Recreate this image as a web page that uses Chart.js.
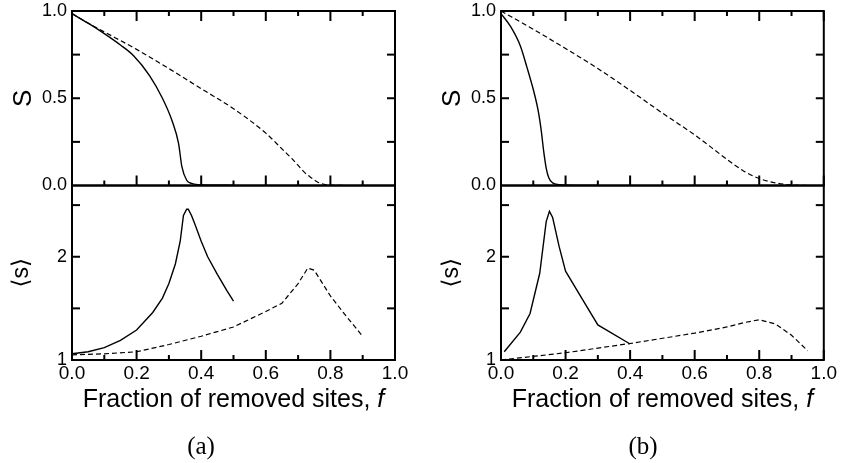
<!DOCTYPE html>
<html>
<head>
<meta charset="utf-8">
<script src="https://cdn.jsdelivr.net/npm/chart.js@4.4.0/dist/chart.umd.min.js"></script>
<style>
  html, body { margin: 0; padding: 0; background: #fff; }
  #wrap { position: relative; width: 841px; height: 463px; }
  .box { position: absolute; top: 0; height: 463px; }
</style>
</head>
<body>
<div id="wrap">
  <div class="box" style="left:0;width:420px"><canvas id="chartA"></canvas></div>
  <div class="box" style="left:420px;width:421px"><canvas id="chartB"></canvas></div>
</div>
<script>
// --- tick values ---
const xMajor = [0, 0.2, 0.4, 0.6, 0.8, 1.0];
const xMinor = [0.1, 0.3, 0.5, 0.7, 0.9];
const yTopLabels = [0, 0.5, 1.0];
const yTopMarks = [0.25, 0.5, 0.75];
const yBotLabels = [1, 2];
const yBotMarks = [1.5, 2, 2.5];

// --- panel (a), upper: S vs f ---
const attackFa = [0, 0.05, 0.1, 0.15, 0.19, 0.24, 0.28, 0.31, 0.33, 0.34, 0.355, 0.37, 0.39, 0.45, 0.5];
const attackSa = [0.985, 0.93, 0.87, 0.805, 0.745, 0.63, 0.50, 0.37, 0.24, 0.11, 0.03, 0.012, 0.005, 0.002, 0.001];
const failFa = [0, 0.05, 0.1, 0.2, 0.3, 0.4, 0.5, 0.6, 0.65, 0.68, 0.7, 0.72, 0.74, 0.76, 0.78, 0.8, 0.85];
const failSa = [0.985, 0.93, 0.88, 0.78, 0.67, 0.555, 0.44, 0.30, 0.21, 0.155, 0.115, 0.075, 0.045, 0.02, 0.007, 0.002, 0];

// --- panel (a), lower: <s> vs f ---
const attackFsa = [0, 0.05, 0.1, 0.15, 0.2, 0.25, 0.28, 0.30, 0.32, 0.335, 0.345, 0.355, 0.36, 0.37, 0.38, 0.40, 0.42, 0.45, 0.48, 0.50];
const attackMsa = [1.06, 1.08, 1.12, 1.19, 1.29, 1.46, 1.60, 1.74, 1.93, 2.15, 2.40, 2.46, 2.46, 2.40, 2.32, 2.15, 2.00, 1.83, 1.67, 1.57];
const failFsa = [0, 0.1, 0.2, 0.3, 0.4, 0.5, 0.6, 0.65, 0.7, 0.73, 0.75, 0.8, 0.85, 0.9];
const failMsa = [1.05, 1.06, 1.08, 1.15, 1.23, 1.32, 1.47, 1.55, 1.74, 1.89, 1.87, 1.62, 1.42, 1.23];

// --- panel (b), upper ---
const attackFb = [0, 0.03, 0.06, 0.08, 0.1, 0.115, 0.125, 0.132, 0.14, 0.148, 0.16, 0.18, 0.2, 0.3];
const attackSb = [0.985, 0.91, 0.80, 0.68, 0.55, 0.43, 0.31, 0.20, 0.10, 0.045, 0.015, 0.005, 0.002, 0];
const failFb = [0, 0.1, 0.2, 0.3, 0.4, 0.5, 0.6, 0.7, 0.75, 0.8, 0.85, 0.9, 0.95];
const failSb = [1.0, 0.895, 0.785, 0.67, 0.545, 0.415, 0.29, 0.15, 0.085, 0.04, 0.015, 0.003, 0];

// --- panel (b), lower ---
const attackFsb = [0.01, 0.06, 0.09, 0.12, 0.14, 0.15, 0.16, 0.18, 0.2, 0.25, 0.3, 0.4];
const attackMsb = [1.08, 1.27, 1.45, 1.84, 2.34, 2.44, 2.38, 2.10, 1.86, 1.60, 1.34, 1.155];
const failFsb = [0, 0.2, 0.4, 0.6, 0.7, 0.75, 0.8, 0.85, 0.9, 0.95];
const failMsb = [1.0, 1.07, 1.16, 1.26, 1.32, 1.36, 1.39, 1.35, 1.24, 1.09];

const SANS = '"Liberation Sans", Arial, Helvetica, sans-serif';
const SERIF = '"Liberation Serif", "Times New Roman", serif';

function pts(xs, ys) {
  return xs.map((x, i) => ({ x: x, y: ys[i] }));
}

function line(data, axis, dashed, smooth) {
  return {
    data: data,
    yAxisID: axis,
    borderColor: '#000',
    borderWidth: dashed ? 1.2 : 1.4,
    borderDash: dashed ? [5, 3] : [],
    pointRadius: 0,
    fill: false,
    cubicInterpolationMode: smooth ? 'monotone' : 'default',
    tension: 0
  };
}

// рамка, внутренние засечки и подписи под осью
const framePlugin = {
  id: 'frame',
  afterDraw(chart, args, opts) {
    const ctx = chart.ctx;
    const x = chart.scales.x, yt = chart.scales.yTop, yb = chart.scales.yBot;
    const L = chart.chartArea.left, R = chart.chartArea.right;
    ctx.save();
    ctx.setLineDash([]);

    ctx.strokeStyle = '#000';
    ctx.lineWidth = 2;
    ctx.strokeRect(L, yt.top, R - L, yt.bottom - yt.top);
    ctx.strokeRect(L, yb.top, R - L, yb.bottom - yb.top);

    ctx.fillStyle = '#000';
    const xTick = (v, len) => {
      const px = x.getPixelForValue(v);
      ctx.fillRect(px - 1, yt.top, 2, len);
      ctx.fillRect(px - 1, yt.bottom - len, 2, len);
      ctx.fillRect(px - 1, yb.bottom - len, 2, len);
    };
    xMajor.forEach(v => xTick(v, 10));
    xMinor.forEach(v => xTick(v, 5));

    const yTick = (scale, v) => {
      const py = scale.getPixelForValue(v);
      ctx.fillRect(L, py - 1, 8, 2);
      ctx.fillRect(R - 8, py - 1, 8, 2);
    };
    yTopMarks.forEach(v => yTick(yt, v));
    yBotMarks.forEach(v => yTick(yb, v));

    // подпись оси x с курсивной f
    ctx.textBaseline = 'middle';
    ctx.textAlign = 'left';
    const t1 = 'Fraction of removed sites, ';
    ctx.font = '25px ' + SANS;
    const w1 = ctx.measureText(t1).width;
    ctx.font = 'italic 25px ' + SANS;
    const w2 = ctx.measureText('f').width;
    const start = (L + R) / 2 - (w1 + w2) / 2;
    ctx.font = '25px ' + SANS;
    ctx.fillText(t1, start, 400);
    ctx.font = 'italic 25px ' + SANS;
    ctx.fillText('f', start + w1, 400);

    ctx.textAlign = 'center';
    ctx.font = '25px ' + SERIF;
    ctx.fillText(opts.tag, opts.tagX, 447);
    ctx.restore();
  }
};

function makeChart(id, sets, cfg) {
  const tickFont = { family: SANS, size: 18, lineHeight: 0.6 };
  return new Chart(document.getElementById(id), {
    type: 'line',
    data: { datasets: sets },
    options: {
      responsive: true,
      maintainAspectRatio: false,
      animation: false,
      events: [],
      layout: { padding: { top: 11, left: 0, right: cfg.padRight, bottom: 76 } },
      plugins: {
        legend: { display: false },
        tooltip: { enabled: false },
        frame: { tag: cfg.tag, tagX: cfg.tagX }
      },
      scales: {
        x: {
          type: 'linear',
          min: 0, max: 1,
          grid: { display: false, drawTicks: false },
          border: { display: false },
          afterBuildTicks: s => { s.ticks = xMajor.map(v => ({ value: v })); },
          ticks: {
            color: '#000',
            font: { family: SANS, size: 19, lineHeight: 1 },
            padding: 4,
            maxRotation: 0,
            autoSkip: false,
            callback: v => v.toFixed(1)
          }
        },
        yBot: {
          type: 'linear',
          position: 'left',
          stack: 'panels',
          stackWeight: 1,
          min: 1, max: 2.69,
          grid: { display: false, drawTicks: false },
          border: { display: false },
          afterBuildTicks: s => { s.ticks = yBotLabels.map(v => ({ value: v })); },
          afterFit: s => { s.width = cfg.axisW; },
          ticks: { color: '#000', font: tickFont, padding: 5, callback: v => String(v) },
          title: {
            display: true, text: '\u27E8s\u27E9', color: '#000',
            font: { family: SANS + ', "DejaVu Sans"', size: 23, lineHeight: 1 },
            padding: { top: cfg.titlePadBot, bottom: 0 }
          }
        },
        yTop: {
          type: 'linear',
          position: 'left',
          stack: 'panels',
          stackWeight: 1,
          min: 0, max: 1,
          grid: { display: false, drawTicks: false },
          border: { display: false },
          afterBuildTicks: s => { s.ticks = yTopLabels.map(v => ({ value: v })); },
          afterFit: s => { s.width = cfg.axisW; },
          ticks: { color: '#000', font: tickFont, padding: 5, callback: v => v.toFixed(1) },
          title: {
            display: true, text: 'S', color: '#000',
            font: { family: SANS, size: 26, lineHeight: 1 },
            padding: { top: cfg.titlePadTop, bottom: 0 }
          }
        }
      }
    },
    plugins: [framePlugin]
  });
}

makeChart('chartA', [
  line(pts(attackFa, attackSa), 'yTop', false, true),
  line(pts(failFa, failSa), 'yTop', true, true),
  line(pts(attackFsa, attackMsa), 'yBot', false, false),
  line(pts(failFsa, failMsa), 'yBot', true, false)
], { padRight: 25, axisW: 72, titlePadTop: 11, titlePadBot: 10, tag: '(a)', tagX: 201 });

makeChart('chartB', [
  line(pts(attackFb, attackSb), 'yTop', false, true),
  line(pts(failFb, failSb), 'yTop', true, true),
  line(pts(attackFsb, attackMsb), 'yBot', false, false),
  line(pts(failFsb, failMsb), 'yBot', true, false)
], { padRight: 17, axisW: 81, titlePadTop: 20, titlePadBot: 20, tag: '(b)', tagX: 223 });
</script>
</body>
</html>
